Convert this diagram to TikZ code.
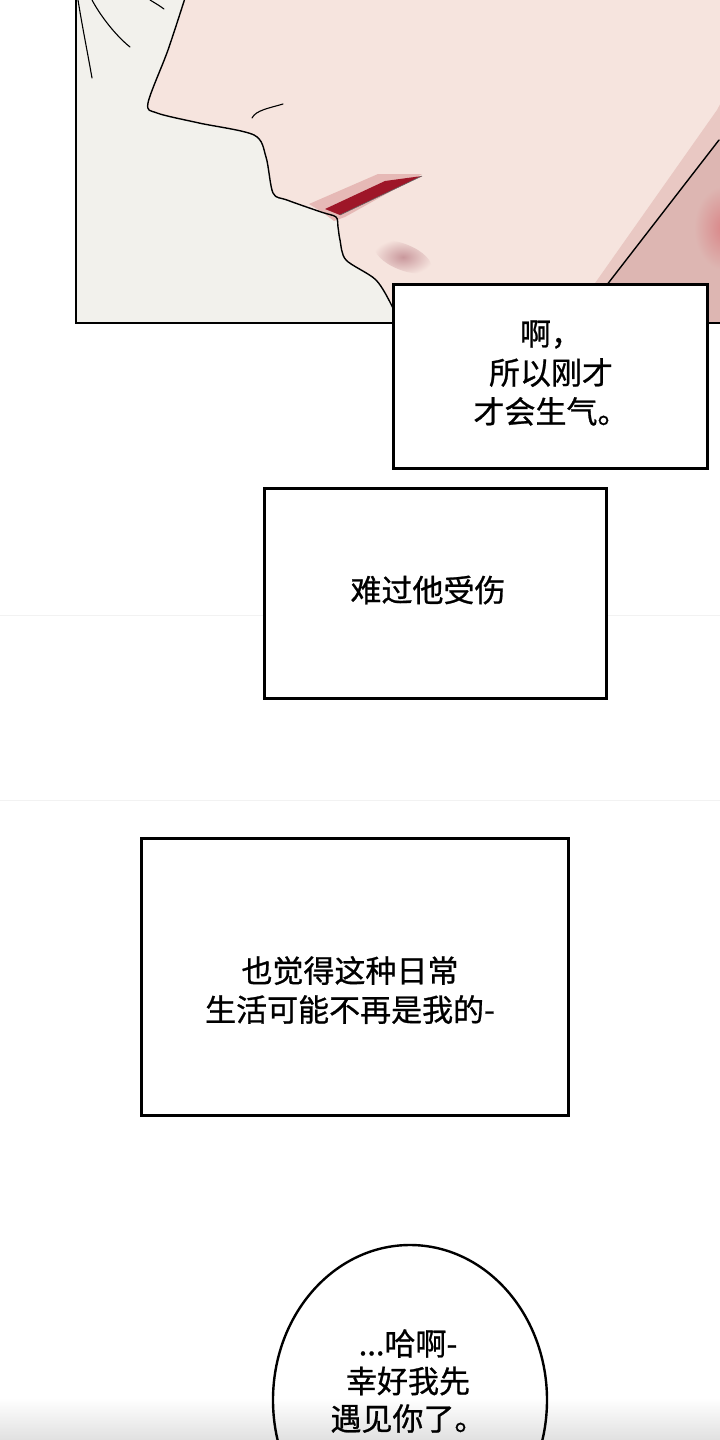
\documentclass[tikz,border=0pt]{standalone}
\usepackage{fontspec}
\newfontfamily\cjk[FakeBold=0.8]{Noto Sans CJK SC}
\usetikzlibrary{shapes.geometric}
\definecolor{panelbg}{HTML}{F2F1EC}
\definecolor{skin}{HTML}{F6E4DE}
\definecolor{neck}{HTML}{DDB6B2}
\definecolor{neckband}{HTML}{E9C8C3}
\definecolor{lipred}{HTML}{9E1628}
\definecolor{lippink}{HTML}{E6B9B6}
\definecolor{chinshade}{HTML}{C9989C}
\definecolor{blush}{HTML}{D98587}
\begin{document}
\begin{tikzpicture}[x=1pt,y=-1pt,
  box/.style={draw=black,line width=2.6pt,fill=white},
  captext/.style={font=\cjk\fontsize{31}{39}\selectfont,align=center,text=black,inner sep=0pt},
  ink/.style={draw=black,line width=1.4pt,line cap=round,line join=round}]
\useasboundingbox (0,0) rectangle (720,1440);
\fill[white] (0,0) rectangle (720,1440);
% faint scan lines
\draw[black!5,line width=0.6pt] (0,615) -- (720,615);
\draw[black!5,line width=0.6pt] (0,800) -- (720,800);
% bottom shading
\shade[top color=white,bottom color=black!12] (0,1398) rectangle (720,1440);
% ---------- top panel ----------
\begin{scope}
\clip (76,-5) rectangle (725,323);
\fill[panelbg] (76,-5) rectangle (725,323);
\fill[skin] plot[smooth,tension=0.5] coordinates {(186,-5) (168,50) (148,103) (157,113) (199,123) (254,135) (266,157) (273,193) (287,200) (321,212) (336,217) (338,227) (340,240) (346,260) (376,280) (393,308) (402,330)} -- (725,330) -- (725,-5) -- cycle;
% neck
\fill[neckband] (562,330) -- (717,110) -- (725,95) -- (725,330) -- cycle;
\fill[neck] (572,330) -- (719,140) -- (725,135) -- (725,330) -- cycle;
\shade[inner color=blush,outer color=neck] (724,228) ellipse (30 and 42);
\draw[ink] (572,330) -- (719,140);
% lips
\fill[lippink] (309,204) -- (378,174) -- (422,174) -- (345,217) -- (334,221) -- (322,212) -- cycle;
\fill[lipred] (325,209) -- (385,181) -- (422,176) -- (340,215) -- cycle;
\draw[black!60,line width=0.6pt] (340,215) -- (422,176);
% profile line
\draw[ink] plot[smooth,tension=0.5] coordinates {(186,-5) (168,50) (148,103) (157,113) (199,123) (254,135) (266,157) (273,193) (287,200) (321,212) (336,217) (338,227) (340,240) (346,260) (376,280) (393,308) (402,330)};
% nostril
\draw[ink,line width=1.1pt] (252,118) .. controls (256,110) and (270,108) .. (283,104);
% hair strands
\draw[ink,line width=1.1pt] (78,0) .. controls (82,25) and (88,55) .. (92,78);
\draw[ink,line width=1.1pt] (92,0) .. controls (100,15) and (115,35) .. (130,47);
\draw[ink,line width=1.1pt] (150,0) .. controls (155,3) and (160,6) .. (164,9);
% chin shadow
\shade[inner color=chinshade,outer color=skin,rotate around={-22:(403,257)}] (403,257) ellipse (30 and 13);
\end{scope}
\draw[line width=2.6pt] (76,-5) -- (76,323) -- (725,323);
% ---------- caption boxes ----------
\node[box,minimum width=314pt,minimum height=184pt,anchor=north west] (b1) at (392,283) {};
\node[captext] (t1) at (551,373) {啊，\\所以刚才\\才会生气。};
\node[box,minimum width=342pt,minimum height=210pt,anchor=north west] (b2) at (263,487) {};
\node[captext] (t2) at (428,590) {难过他受伤};
\node[box,minimum width=427pt,minimum height=277pt,anchor=north west] (b3) at (140,837) {};
\node[captext] (t3) at (350,990) {也觉得这种日常\\生活可能不再是我的-};
% ---------- speech bubble ----------
\node[draw=black,line width=2.4pt,ellipse,minimum width=274pt,minimum height=310pt] (bub) at (410,1400) {};
\node[captext,font=\cjk\fontsize{31}{37.5}\selectfont] (t4) at (408,1381) {...哈啊-\\幸好我先\\遇见你了。};
\end{tikzpicture}
\end{document}
